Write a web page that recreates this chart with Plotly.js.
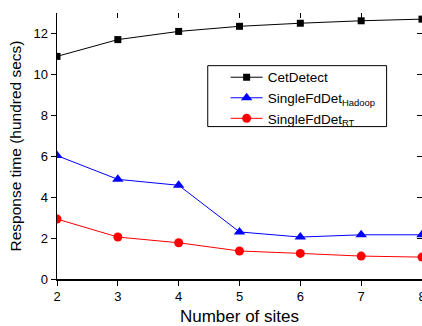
<!DOCTYPE html>
<html>
<head>
<meta charset="utf-8">
<script src="https://cdn.plot.ly/plotly-3.0.1.min.js"></script>
<style>html,body{margin:0;padding:0;background:#fff;}#chart{width:422px;height:326px;}</style>
</head>
<body>
<div id="chart"></div>
<script>
const sites = [2, 3, 4, 5, 6, 7, 8];
const cetDetect = [10.88, 11.7, 12.1, 12.35, 12.5, 12.62, 12.7];
const singleHadoop = [6.03, 4.87, 4.58, 2.3, 2.05, 2.16, 2.16];
const singleRT = [2.93, 2.05, 1.77, 1.37, 1.25, 1.12, 1.07];
const yTicks = [0, 2, 4, 6, 8, 10, 12];
const names = ['CetDetect', 'SingleFdDet<sub>Hadoop</sub>', 'SingleFdDet<sub>RT</sub>'];

const traces = [
  {x: sites, y: cetDetect, name: names[0], mode: 'lines+markers',
   line: {color: '#000000', width: 1}, marker: {symbol: 'square', size: 7, color: '#000000'}},
  {x: sites, y: singleHadoop, name: names[1], mode: 'lines+markers',
   line: {color: '#0000ff', width: 1}, marker: {symbol: 'triangle-up', size: 10, color: '#0000ff'}},
  {x: sites, y: singleRT, name: names[2], mode: 'lines+markers',
   line: {color: '#ff0000', width: 1}, marker: {symbol: 'circle', size: 9, color: '#ff0000'}},
  {x: [sites[0]], y: [0], xaxis: 'x2', yaxis: 'y2', mode: 'none', showlegend: false, hoverinfo: 'skip'}
];

const font = {family: 'Liberation Sans, Arial, sans-serif', color: '#000'};
const layout = {
  width: 422, height: 326,
  margin: {l: 57, r: 0, t: 13, b: 47},
  paper_bgcolor: '#fff', plot_bgcolor: '#fff',
  font: Object.assign({size: 13}, font),
  showlegend: true,
  legend: {x: 0.462, y: 0.816, xanchor: 'left', yanchor: 'top',
    bgcolor: 'rgba(0,0,0,0)', borderwidth: 0, itemwidth: 32,
    font: Object.assign({size: 13.5}, font), tracegroupgap: 0},
  shapes: [{type: 'rect', xref: 'paper', yref: 'paper', x0: 0.413, x1: 0.903, y0: 0.573, y1: 0.802,
    line: {color: '#000', width: 1}, fillcolor: '#fff', layer: 'above'}],
  xaxis: {range: [2, 8], tickvals: sites, ticks: 'outside', ticklen: 5, tickwidth: 1,
    tickcolor: '#000', showline: true, linecolor: '#000', linewidth: 1.5, showgrid: false,
    zeroline: false, tickfont: Object.assign({size: 13}, font), ticklabeloverflow: 'allow',
    title: {text: 'Number of sites', font: Object.assign({size: 17}, font), standoff: 8}},
  yaxis: {range: [0, 13], tickvals: yTicks, ticks: 'outside', ticklen: 5, tickwidth: 1,
    tickcolor: '#000', showline: true, linecolor: '#000', linewidth: 1.5, showgrid: false,
    zeroline: false, tickfont: Object.assign({size: 13}, font),
    title: {text: 'Response time (hundred secs)', font: Object.assign({size: 15.5}, font), standoff: 8}},
  xaxis2: {overlaying: 'x', side: 'top', range: [2, 8], tickvals: sites, ticks: 'inside',
    ticklen: 5, tickwidth: 1, tickcolor: '#000', showticklabels: false, showline: false,
    showgrid: false, zeroline: false},
  yaxis2: {overlaying: 'y', side: 'right', range: [0, 13], tickvals: yTicks, ticks: 'inside',
    ticklen: 5, tickwidth: 1, tickcolor: '#000', showticklabels: false, showline: false,
    showgrid: false, zeroline: false}
};
Plotly.newPlot('chart', traces, layout, {displayModeBar: false, staticPlot: true});
</script>
</body>
</html>
